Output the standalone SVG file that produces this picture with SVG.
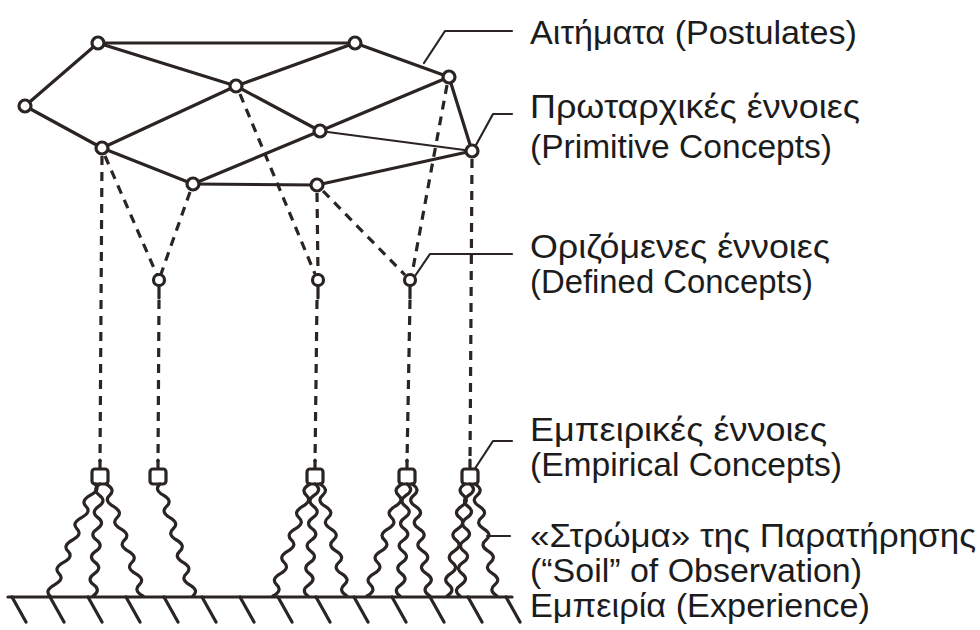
<svg xmlns="http://www.w3.org/2000/svg" width="980" height="630" viewBox="0 0 980 630">
<style>
.e{stroke:#2a2422;stroke-width:3.2;fill:none;stroke-linecap:round;stroke-linejoin:round}
.thin{stroke-width:2.2}
.d{stroke-dasharray:9 7;stroke-linecap:butt}
.w{stroke:#2a2422;stroke-width:3.2;fill:none;stroke-linecap:round}
.n{fill:#fff;stroke:#2a2422;stroke-width:3.2}
.lbl{font-family:"Liberation Sans",Arial,sans-serif;font-size:33px;fill:#1c1c1c}
</style>
<rect width="980" height="630" fill="#fff"/>
<g id="connectors">
  <path class="e" d="M98 43 L355 43"/>
  <path class="e" d="M98 43 L25 106"/>
  <path class="e" d="M98 43 L236 86"/>
  <path class="e" d="M355 43 L236 86"/>
  <path class="e" d="M355 43 L449 77"/>
  <path class="e" d="M25 106 L102 148"/>
  <path class="e" d="M236 86 L102 148"/>
  <path class="e" d="M236 86 L320 131"/>
  <path class="e" d="M320 131 L449 77"/>
  <path class="e" d="M449 77 L472 151"/>
  <path class="e thin" d="M320 131 L472 151"/>
  <path class="e" d="M320 131 L193 184"/>
  <path class="e" d="M102 148 L193 184"/>
  <path class="e" d="M193 184 L317 185"/>
  <path class="e" d="M317 185 L472 151"/>
  <path class="e d" d="M102 156 L100 462"/>
  <path class="e d" d="M105 156 L157 275"/>
  <path class="e d" d="M190 192 L161 274"/>
  <path class="e d" d="M240 94 L315 274"/>
  <path class="e d" d="M317 193 L318 274"/>
  <path class="e d" d="M323 191 L405 275"/>
  <path class="e d" d="M447 85 L412 274"/>
  <path class="e d" d="M472 159 L470 462"/>
  <path class="e d" d="M159 300 L158 462"/>
  <path class="e d" d="M317 300 L315 462"/>
  <path class="e d" d="M410 300 L407 462"/>
  <path class="e thin" d="M424 63 L445 31 L512 31"/>
  <path class="e thin" d="M476 145 L493 114 L512 114"/>
  <path class="e thin" d="M415 276 L430 254 L512 254"/>
  <path class="e thin" d="M474 470 L493 441 L512 441"/>
  <path class="e thin" d="M487 536 L510 536"/>
</g>
<g id="postulates">
  <circle class="n" cx="98" cy="43" r="6"/>
  <circle class="n" cx="355" cy="43" r="6"/>
  <circle class="n" cx="25" cy="106" r="6"/>
  <circle class="n" cx="236" cy="86" r="6"/>
  <circle class="n" cx="449" cy="77" r="6"/>
</g>
<g id="primitive">
  <circle class="n" cx="320" cy="131" r="6"/>
  <circle class="n" cx="102" cy="148" r="6"/>
  <circle class="n" cx="472" cy="151" r="6"/>
  <circle class="n" cx="193" cy="184" r="6"/>
  <circle class="n" cx="317" cy="185" r="6"/>
</g>
<g id="defined">
  <path class="e" d="M159 285 L159 298"/>
  <circle class="n" cx="159" cy="280" r="5.5"/>
  <path class="e" d="M318 285 L318 298"/>
  <circle class="n" cx="318" cy="280" r="5.5"/>
  <path class="e" d="M410 285 L410 298"/>
  <circle class="n" cx="410" cy="280" r="5.5"/>
</g>
<g id="empirical">
  <path class="e" d="M100 460 V470 M158 460 V470 M315 460 V470 M407 460 V470 M470 460 V470"/>
  <rect class="n" x="92" y="469" width="16" height="15" rx="3"/>
  <rect class="n" x="150" y="469" width="16" height="15" rx="3"/>
  <rect class="n" x="307" y="469" width="16" height="15" rx="3"/>
  <rect class="n" x="399" y="469" width="16" height="15" rx="3"/>
  <rect class="n" x="462" y="469" width="16" height="15" rx="3"/>
</g>
<g id="soil">
  <path class="w" d="M95 484 q5.75 5.6 -4.5 11.2 q-10.25 5.6 -4.5 11.2 q5.75 5.6 -4.5 11.2 q-10.25 5.6 -4.5 11.2 q5.75 5.6 -4.5 11.2 q-10.25 5.6 -4.5 11.2 q5.75 5.6 -4.5 11.2 q-10.25 5.6 -4.5 11.2 q5.75 5.6 -4.5 11.2 q-10.25 5.6 -4.5 11.2"/>
  <path class="w" d="M100 484 q-8.35 5.6 -0.7 11.2 q7.65 5.6 -0.7 11.2 q-8.35 5.6 -0.7 11.2 q7.65 5.6 -0.7 11.2 q-8.35 5.6 -0.7 11.2 q7.65 5.6 -0.7 11.2 q-8.35 5.6 -0.7 11.2 q7.65 5.6 -0.7 11.2 q-8.35 5.6 -0.7 11.2 q7.65 5.6 -0.7 11.2"/>
  <path class="w" d="M106 484 q9.85 5.6 3.7 11.2 q-6.15 5.6 3.7 11.2 q9.85 5.6 3.7 11.2 q-6.15 5.6 3.7 11.2 q9.85 5.6 3.7 11.2 q-6.15 5.6 3.7 11.2 q9.85 5.6 3.7 11.2 q-6.15 5.6 3.7 11.2 q9.85 5.6 3.7 11.2 q-6.15 5.6 3.7 11.2"/>
  <path class="w" d="M160 484 q-6.35 5.6 3.3 11.2 q9.65 5.6 3.3 11.2 q-6.35 5.6 3.3 11.2 q9.65 5.6 3.3 11.2 q-6.35 5.6 3.3 11.2 q9.65 5.6 3.3 11.2 q-6.35 5.6 3.3 11.2 q9.65 5.6 3.3 11.2 q-6.35 5.6 3.3 11.2 q9.65 5.6 3.3 11.2"/>
  <path class="w" d="M310 484 q-9.85 5.6 -3.7 11.2 q6.15 5.6 -3.7 11.2 q-9.85 5.6 -3.7 11.2 q6.15 5.6 -3.7 11.2 q-9.85 5.6 -3.7 11.2 q6.15 5.6 -3.7 11.2 q-9.85 5.6 -3.7 11.2 q6.15 5.6 -3.7 11.2 q-9.85 5.6 -3.7 11.2 q6.15 5.6 -3.7 11.2"/>
  <path class="w" d="M315 484 q7.65 5.6 -0.7 11.2 q-8.35 5.6 -0.7 11.2 q7.65 5.6 -0.7 11.2 q-8.35 5.6 -0.7 11.2 q7.65 5.6 -0.7 11.2 q-8.35 5.6 -0.7 11.2 q7.65 5.6 -0.7 11.2 q-8.35 5.6 -0.7 11.2 q7.65 5.6 -0.7 11.2 q-8.35 5.6 -0.7 11.2"/>
  <path class="w" d="M320 484 q9.35 5.6 2.7 11.2 q-6.65 5.6 2.7 11.2 q9.35 5.6 2.7 11.2 q-6.65 5.6 2.7 11.2 q9.35 5.6 2.7 11.2 q-6.65 5.6 2.7 11.2 q9.35 5.6 2.7 11.2 q-6.65 5.6 2.7 11.2 q9.35 5.6 2.7 11.2 q-6.65 5.6 2.7 11.2"/>
  <path class="w" d="M402 484 q-9.75 5.6 -3.5 11.2 q6.25 5.6 -3.5 11.2 q-9.75 5.6 -3.5 11.2 q6.25 5.6 -3.5 11.2 q-9.75 5.6 -3.5 11.2 q6.25 5.6 -3.5 11.2 q-9.75 5.6 -3.5 11.2 q6.25 5.6 -3.5 11.2 q-9.75 5.6 -3.5 11.2 q6.25 5.6 -3.5 11.2"/>
  <path class="w" d="M407 484 q7.65 5.6 -0.7 11.2 q-8.35 5.6 -0.7 11.2 q7.65 5.6 -0.7 11.2 q-8.35 5.6 -0.7 11.2 q7.65 5.6 -0.7 11.2 q-8.35 5.6 -0.7 11.2 q7.65 5.6 -0.7 11.2 q-8.35 5.6 -0.7 11.2 q7.65 5.6 -0.7 11.2 q-8.35 5.6 -0.7 11.2"/>
  <path class="w" d="M412 484 q8.9 5.6 1.8 11.2 q-7.1 5.6 1.8 11.2 q8.9 5.6 1.8 11.2 q-7.1 5.6 1.8 11.2 q8.9 5.6 1.8 11.2 q-7.1 5.6 1.8 11.2 q8.9 5.6 1.8 11.2 q-7.1 5.6 1.8 11.2 q8.9 5.6 1.8 11.2 q-7.1 5.6 1.8 11.2"/>
  <path class="w" d="M465 484 q-8.9 5.6 -1.8 11.2 q7.1 5.6 -1.8 11.2 q-8.9 5.6 -1.8 11.2 q7.1 5.6 -1.8 11.2 q-8.9 5.6 -1.8 11.2 q7.1 5.6 -1.8 11.2 q-8.9 5.6 -1.8 11.2 q7.1 5.6 -1.8 11.2 q-8.9 5.6 -1.8 11.2 q7.1 5.6 -1.8 11.2"/>
  <path class="w" d="M470 484 q7.5 5.6 -1 11.2 q-8.5 5.6 -1 11.2 q7.5 5.6 -1 11.2 q-8.5 5.6 -1 11.2 q7.5 5.6 -1 11.2 q-8.5 5.6 -1 11.2 q7.5 5.6 -1 11.2 q-8.5 5.6 -1 11.2 q7.5 5.6 -1 11.2 q-8.5 5.6 -1 11.2"/>
  <path class="w" d="M475 484 q9.1 5.6 2.2 11.2 q-6.9 5.6 2.2 11.2 q9.1 5.6 2.2 11.2 q-6.9 5.6 2.2 11.2 q9.1 5.6 2.2 11.2 q-6.9 5.6 2.2 11.2 q9.1 5.6 2.2 11.2 q-6.9 5.6 2.2 11.2 q9.1 5.6 2.2 11.2 q-6.9 5.6 2.2 11.2"/>
</g>
<g id="experience">
  <path class="e" d="M8 597 L512 597"/>
  <path class="e" d="M12 597 l14 25 M50 597 l14 25 M88 597 l14 25 M126 597 l14 25 M164 597 l14 25 M202 597 l14 25 M240 597 l14 25 M278 597 l14 25 M316 597 l14 25 M354 597 l14 25 M392 597 l14 25 M430 597 l14 25 M468 597 l14 25 M506 597 l14 25"/>
</g>
<g id="labels">
  <text class="lbl" x="530" y="44" textLength="327" lengthAdjust="spacingAndGlyphs">Αιτήματα (Postulates)</text>
  <text class="lbl" x="530" y="118" textLength="330" lengthAdjust="spacingAndGlyphs">Πρωταρχικές έννοιες</text>
  <text class="lbl" x="530" y="158" textLength="302" lengthAdjust="spacingAndGlyphs">(Primitive Concepts)</text>
  <text class="lbl" x="530" y="258" textLength="300" lengthAdjust="spacingAndGlyphs">Οριζόμενες έννοιες</text>
  <text class="lbl" x="530" y="293" textLength="283" lengthAdjust="spacingAndGlyphs">(Defined Concepts)</text>
  <text class="lbl" x="530" y="441" textLength="297" lengthAdjust="spacingAndGlyphs">Εμπειρικές έννοιες</text>
  <text class="lbl" x="530" y="476" textLength="312" lengthAdjust="spacingAndGlyphs">(Empirical Concepts)</text>
  <text class="lbl" x="530" y="547" textLength="446" lengthAdjust="spacingAndGlyphs">«Στρώμα» της Παρατήρησης</text>
  <text class="lbl" x="530" y="582" textLength="332" lengthAdjust="spacingAndGlyphs">(“Soil” of Observation)</text>
  <text class="lbl" x="530" y="617" textLength="340" lengthAdjust="spacingAndGlyphs">Εμπειρία (Experience)</text>
</g>
</svg>
